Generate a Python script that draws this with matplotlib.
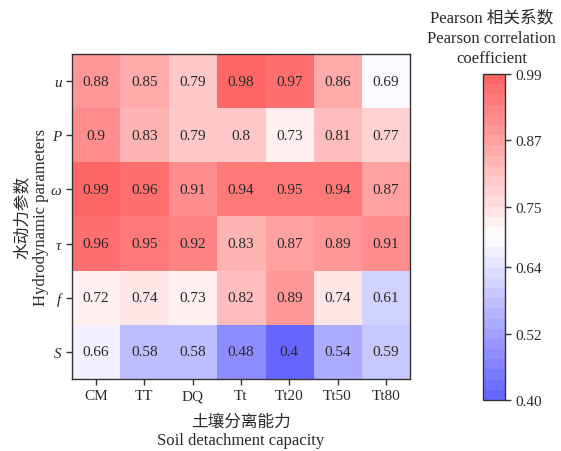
import numpy as np
import matplotlib
matplotlib.use("Agg")
import matplotlib.pyplot as plt
from matplotlib.colors import LinearSegmentedColormap

plt.rcParams['font.family'] = ['Liberation Serif', 'Noto Sans CJK SC', 'DejaVu Sans']
plt.rcParams['mathtext.fontset'] = 'stix'

# Soil detachment capacity indices (columns) and hydrodynamic parameters (rows)
columns = ["CM", "TT", "DQ", "Tt", "Tt20", "Tt50", "Tt80"]
params = ["u", "P", "ω", "τ", "f", "S"]

r_u = [0.88, 0.85, 0.79, 0.98, 0.97, 0.86, 0.69]
r_P = [0.9, 0.83, 0.79, 0.8, 0.73, 0.81, 0.77]
r_omega = [0.99, 0.96, 0.91, 0.94, 0.95, 0.94, 0.87]
r_tau = [0.96, 0.95, 0.92, 0.83, 0.87, 0.89, 0.91]
r_f = [0.72, 0.74, 0.73, 0.82, 0.89, 0.74, 0.61]
r_S = [0.66, 0.58, 0.58, 0.48, 0.4, 0.54, 0.59]

cbar_ticks = [0.40, 0.52, 0.64, 0.75, 0.87, 0.99]

data = np.array([r_u, r_P, r_omega, r_tau, r_f, r_S])
vmin, vmax = 0.40, 0.99

cmap = LinearSegmentedColormap.from_list(
    "soft_bwr", [(0.40, 0.40, 1.0), (1.0, 1.0, 1.0), (1.0, 0.40, 0.40)], N=32)

fig = plt.figure(figsize=(5.61, 4.52), dpi=100)
ax = fig.add_axes([0.1283, 0.1593, 0.6025, 0.719])
im = ax.imshow(data, cmap=cmap, vmin=vmin, vmax=vmax, aspect="auto")

for i in range(data.shape[0]):
    for j in range(data.shape[1]):
        ax.text(j, i, f"{data[i, j]:g}", ha="center", va="center",
                fontsize=11, color="#2a2a2a")

ax.set_xticks(range(len(columns)))
ax.set_xticklabels(columns, fontsize=11)
ax.set_yticks(range(len(params)))
ax.set_yticklabels(params, fontsize=11, style="italic")
ax.tick_params(length=4, width=1, colors="#333333", labelcolor="#2a2a2a")
for s in ax.spines.values():
    s.set_color("#333333")
    s.set_linewidth(1)

ax.set_xlabel("土壤分离能力\nSoil detachment capacity", fontsize=12,
              color="#2a2a2a", linespacing=1.2, labelpad=8)
ax.set_ylabel("水动力参数\nHydrodynamic parameters", fontsize=12,
              color="#2a2a2a", linespacing=1.2, labelpad=1)

cax = fig.add_axes([0.861, 0.1128, 0.039, 0.721])
cb = fig.colorbar(im, cax=cax, ticks=cbar_ticks)
cb.ax.set_yticklabels([f"{t:.2f}" for t in cbar_ticks], fontsize=11, color="#2a2a2a")
cb.ax.tick_params(length=4, width=1, colors="#333333", labelcolor="#2a2a2a")
cb.outline.set_edgecolor("#333333")
cb.outline.set_linewidth(1)

fig.text(0.876, 0.978, "Pearson 相关系数\nPearson correlation\ncoefficient",
         ha="center", va="top", fontsize=12, color="#2a2a2a", linespacing=1.38)

fig.savefig("out.png", dpi=100)
